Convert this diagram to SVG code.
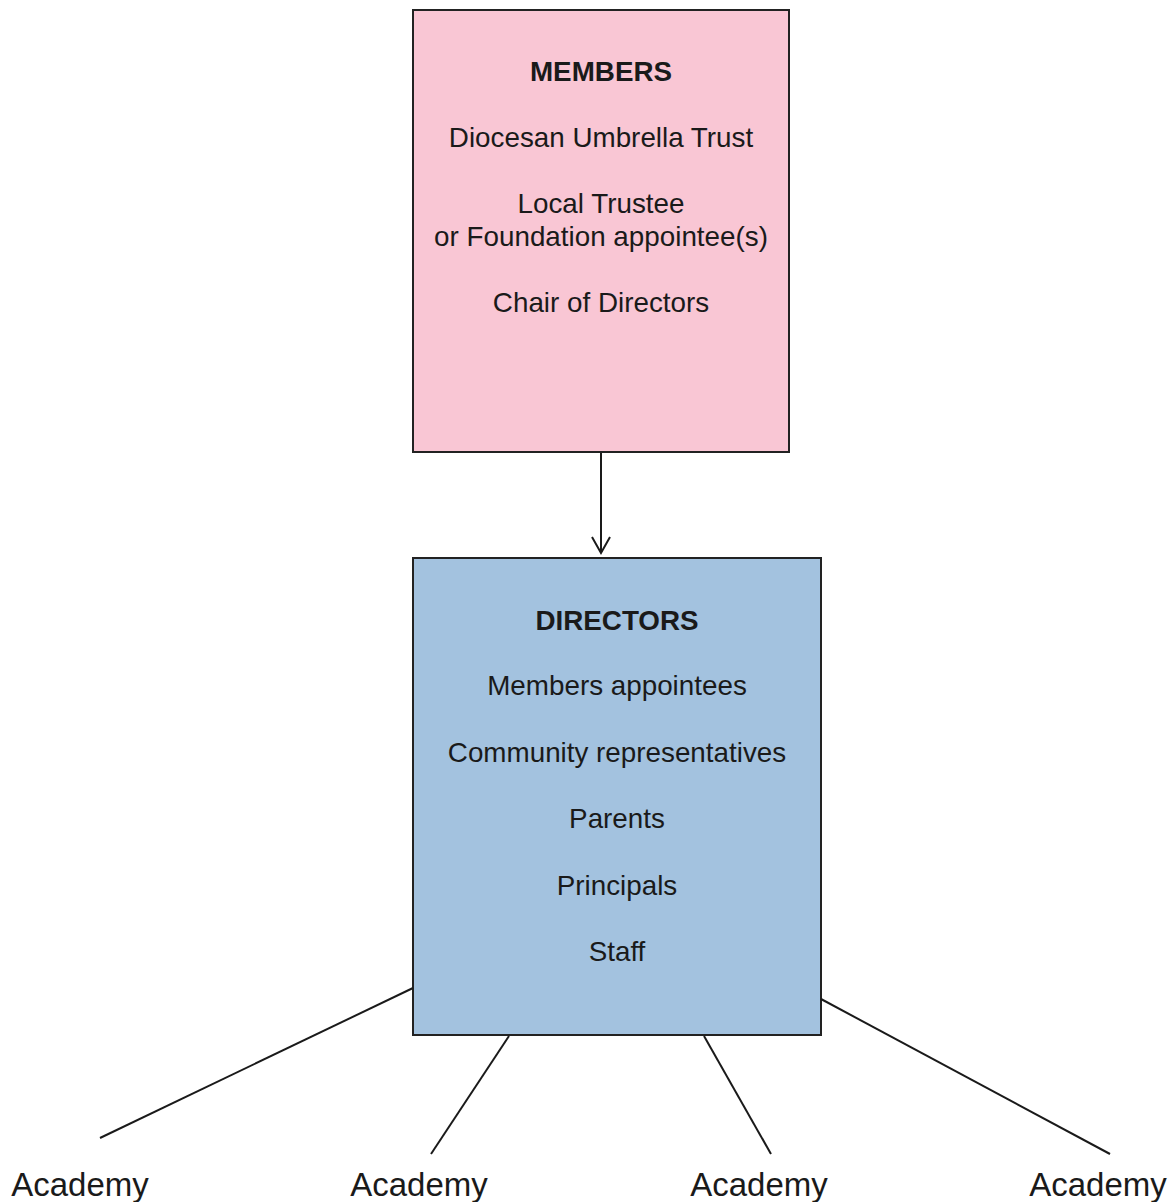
<svg xmlns="http://www.w3.org/2000/svg" width="1176" height="1202" viewBox="0 0 1176 1202">
<style>
.box{stroke:#222;stroke-width:2}
.t{font-family:"Liberation Sans",Arial,sans-serif;font-size:27.8px;fill:#1a1a1a;text-anchor:middle}
.b{font-weight:bold}
.ac{font-family:"Liberation Sans",Arial,sans-serif;font-size:33px;fill:#1a1a1a;text-anchor:middle}
.c{stroke:#1a1a1a;stroke-width:2;fill:none}
</style>
<rect width="1176" height="1202" fill="#fff"/>
<g id="members">
<rect class="box" x="413" y="10" width="376" height="442" fill="#f9c6d4"/>
<text class="t b" x="601" y="81">MEMBERS</text>
<text class="t" x="601" y="147">Diocesan Umbrella Trust</text>
<text class="t" x="601" y="213">Local Trustee</text>
<text class="t" x="601" y="246">or Foundation appointee(s)</text>
<text class="t" x="601" y="312">Chair of Directors</text>
</g>
<g id="directors">
<rect class="box" x="413" y="558" width="408" height="477" fill="#a3c2df"/>
<text class="t b" x="617" y="630">DIRECTORS</text>
<text class="t" x="617" y="695">Members appointees</text>
<text class="t" x="617" y="762">Community representatives</text>
<text class="t" x="617" y="828">Parents</text>
<text class="t" x="617" y="895">Principals</text>
<text class="t" x="617" y="961">Staff</text>
</g>
<g id="academy1"><text class="ac" x="80" y="1196">Academy</text></g>
<g id="academy2"><text class="ac" x="419" y="1196">Academy</text></g>
<g id="academy3"><text class="ac" x="759" y="1196">Academy</text></g>
<g id="academy4"><text class="ac" x="1098" y="1196">Academy</text></g>
<g id="connectors">
<line class="c" x1="601" y1="453" x2="601" y2="553"/>
<polyline class="c" points="592,537 601,553 610,537"/>
<line class="c" x1="413" y1="988" x2="100" y2="1138"/>
<line class="c" x1="509" y1="1036" x2="431" y2="1154"/>
<line class="c" x1="704" y1="1036" x2="771" y2="1154"/>
<line class="c" x1="821" y1="999" x2="1110" y2="1154"/>
</g>
</svg>
